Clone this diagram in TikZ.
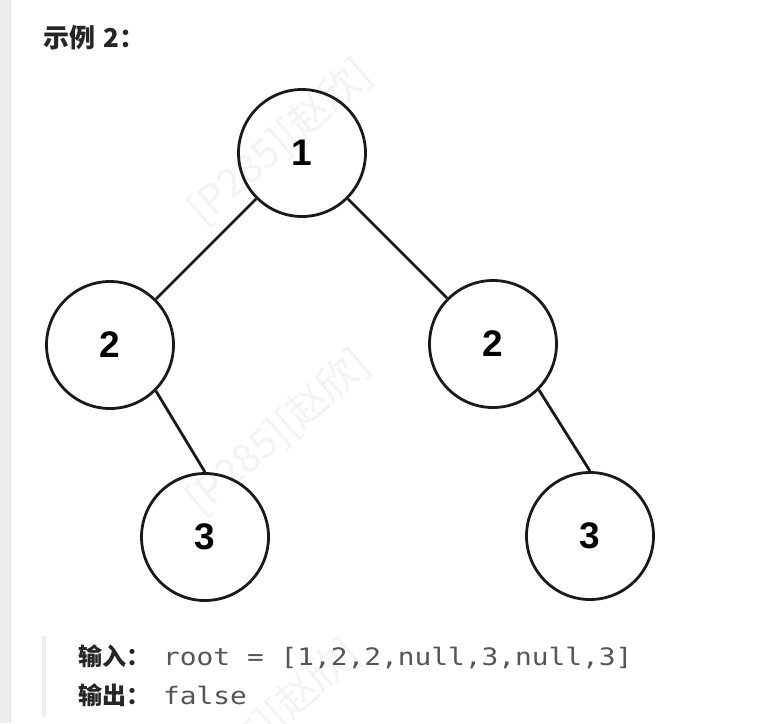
\documentclass[tikz,border=0pt]{standalone}
\usepackage{fontspec}
\usepackage{xcolor}
\usepackage{tikz}
\usetikzlibrary{positioning}
\setmainfont{Liberation Sans}
\newfontfamily\cjkfont{Noto Sans CJK SC}
\newfontfamily\codefont[FakeStretch=1.16]{DejaVu Sans Mono}
\definecolor{stripcol}{HTML}{EEEEEE}
\definecolor{edgecol}{HTML}{E2E2E2}
\definecolor{codecol}{HTML}{555555}
\definecolor{titlecol}{HTML}{262626}
\definecolor{markcol}{HTML}{F3F3F3}
\definecolor{inkcol}{HTML}{1A1A1A}

\begin{document}
\begin{tikzpicture}[x=1pt,y=-1pt,
  treenode/.style={circle,draw=inkcol,line width=2.8pt,minimum size=127pt,inner sep=0pt,
                   font=\fontsize{37}{37}\selectfont\bfseries},
  branch/.style={draw=inkcol,line width=2.8pt},
  keytext/.style={anchor=base west,inner sep=0pt,text=titlecol,
                  font=\cjkfont\bfseries\fontsize{24}{24}\selectfont},
  codetext/.style={anchor=base west,inner sep=0pt,text=codecol,
                   font=\codefont\fontsize{24}{24}\selectfont},
  watermark/.style={text=markcol,rotate=41,inner sep=0pt,
                    font=\cjkfont\fontsize{40}{40}\selectfont},
]
\useasboundingbox (0,0) rectangle (765,723);
\fill[white] (0,0) rectangle (765,723);
\fill[stripcol] (0,0) rectangle (10,723);
\draw[edgecol,line width=1pt] (10.5,0) -- (10.5,723);

% watermarks
\node[watermark] (mark1) at (280,142) {[P285][赵欣]};
\node[watermark] (mark2) at (278,432) {[P285][赵欣]};
\node[watermark] (mark3) at (268,722) {[P285][赵欣]};

\node[keytext,font=\cjkfont\bfseries\fontsize{26}{26}\selectfont] (title) at (43,47) {示例\,\,2：};

% tree
\node[treenode] (n1)  at (302,153) {1};
\node[treenode] (n2l) at (110,345) {2};
\node[treenode] (n2r) at (493,344) {2};
\node[treenode] (n3l) at (205,537) {3};
\node[treenode] (n3r) at (590,536) {3};

\draw[branch] (n1.south west) -- (n2l.north east);
\draw[branch] (n1.south east) -- (n2r.north west);
\draw[branch] (n2l.south east) -- (n3l.north);
\draw[branch] (n2r.south east) -- (n3r.north);

% input / output
\fill[stripcol] (42,636) rectangle (46,717);
\node[keytext]  (inkey)  at (78,665)  {输入：};
\node[codetext] (inval)  at (163,665) {root = [1,2,2,null,3,null,3]};
\node[keytext]  (outkey) at (78,704)  {输出：};
\node[codetext] (outval) at (163,704) {false};
\end{tikzpicture}
\end{document}
